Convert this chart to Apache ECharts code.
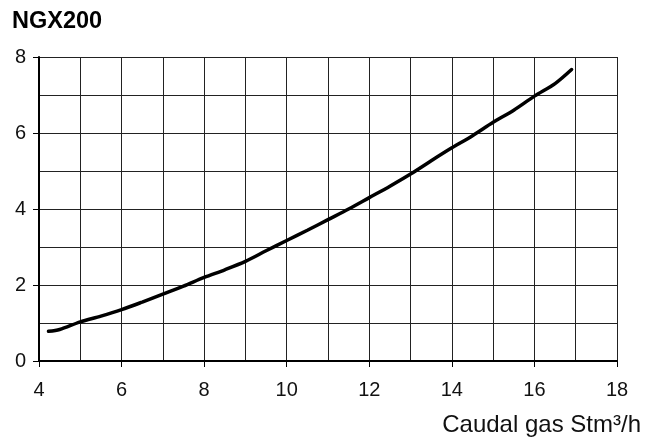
<!DOCTYPE html>
<html>
<head>
<meta charset="utf-8">
<script src="https://cdn.jsdelivr.net/npm/echarts@6/dist/echarts.min.js"></script>
<style>
  html, body { margin: 0; padding: 0; background: #fff; }
  #chart { width: 653px; height: 441px; }
</style>
</head>
<body>
<div id="chart"></div>
<script>
// Gas flow (Stm3/h) against the NGX200 curve value
const flow = [4.23, 4.5, 5.0, 5.5, 6.0, 6.5, 7.0, 7.5, 8.0, 8.5, 9.0, 9.5, 10.0, 10.5,
              11.0, 11.5, 12.0, 12.5, 13.0, 13.5, 14.0, 14.5, 15.0, 15.5, 16.0, 16.5, 16.9];
const value = [0.78, 0.83, 1.03, 1.18, 1.35, 1.55, 1.76, 1.97, 2.2, 2.4, 2.62, 2.9, 3.17, 3.44,
               3.72, 4.0, 4.3, 4.6, 4.92, 5.27, 5.61, 5.93, 6.28, 6.6, 6.97, 7.3, 7.67];

const xTicks = [4, 6, 8, 10, 12, 14, 16, 18];
const yTicks = [0, 2, 4, 6, 8];

const chartTitle = 'NGX200';
const xAxisName = 'Caudal gas Stm³/h';

const points = flow.map((f, i) => [f, value[i]]);
const font = 'Liberation Sans, Arial, Helvetica, sans-serif';
const gridColor = '#222';

const chart = echarts.init(document.getElementById('chart'), null, { renderer: 'canvas' });
chart.setOption({
  backgroundColor: '#fff',
  animation: false,
  title: [
    {
      text: chartTitle,
      left: 12, top: 10, padding: 0,
      textStyle: { fontFamily: font, fontSize: 23.5, fontWeight: 'bold', color: '#000' }
    },
    {
      text: xAxisName,
      right: 12, top: 413, padding: 0,
      textStyle: { fontFamily: font, fontSize: 24, fontWeight: 'normal', color: '#111' }
    }
  ],
  grid: { left: 39, right: 36, top: 57, bottom: 80, containLabel: false },
  xAxis: {
    type: 'value',
    min: xTicks[0], max: xTicks[xTicks.length - 1], interval: 2,
    axisLine: { show: true, lineStyle: { color: '#000', width: 2 } },
    axisTick: { show: true, length: 6, lineStyle: { color: '#000', width: 1 } },
    axisLabel: { margin: 19, fontFamily: font, fontSize: 20, color: '#111' },
    splitLine: { show: true, lineStyle: { color: gridColor, width: 1 } },
    minorTick: { show: false, splitNumber: 2 },
    minorSplitLine: { show: true, lineStyle: { color: gridColor, width: 1 } }
  },
  yAxis: {
    type: 'value',
    min: yTicks[0], max: yTicks[yTicks.length - 1], interval: 2,
    axisLine: { show: true, lineStyle: { color: '#000', width: 2 } },
    axisTick: { show: true, length: 6, lineStyle: { color: '#000', width: 1 } },
    axisLabel: { margin: 13, fontFamily: font, fontSize: 20, color: '#111' },
    splitLine: { show: true, lineStyle: { color: gridColor, width: 1 } },
    minorTick: { show: false, splitNumber: 2 },
    minorSplitLine: { show: true, lineStyle: { color: gridColor, width: 1 } }
  },
  series: [{
    type: 'line',
    data: points,
    showSymbol: false,
    smooth: 0.3,
    lineStyle: { color: '#000', width: 3.5, cap: 'round' },
    z: 5
  }]
});
</script>
</body>
</html>
